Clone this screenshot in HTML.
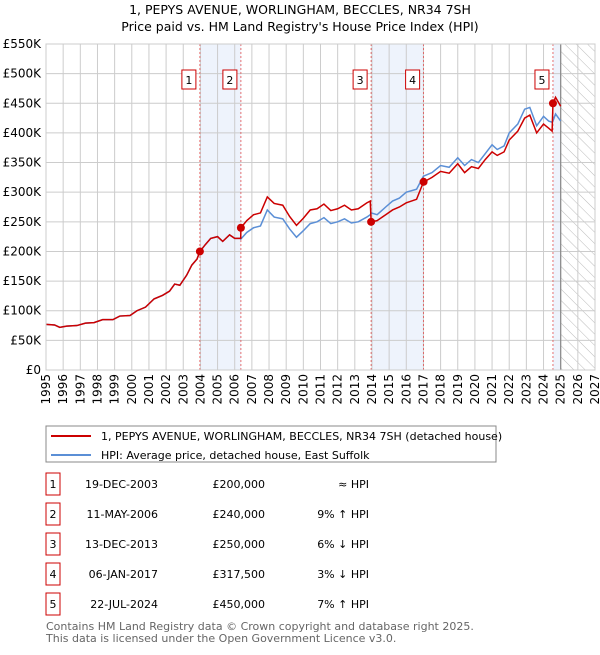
<!DOCTYPE html>
<html><head><meta charset="utf-8"><style>
body{margin:0;background:#fff;font-family:"Liberation Sans","DejaVu Sans",sans-serif;}
svg text{font-family:"DejaVu Sans","Liberation Sans",sans-serif;}
</style></head><body>
<svg id="c" width="600" height="650" viewBox="0 0 600 650" xmlns="http://www.w3.org/2000/svg">
<defs><pattern id="hatch" width="8" height="8" patternUnits="userSpaceOnUse" patternTransform="rotate(-45)"><line x1="0" y1="0" x2="0" y2="8" stroke="#bbb" stroke-width="1"/></pattern></defs>
<text x="300" y="14" text-anchor="middle" font-size="12.5" fill="#000">1, PEPYS AVENUE, WORLINGHAM, BECCLES, NR34 7SH</text>
<text x="300" y="31" text-anchor="middle" font-size="12.5" fill="#000">Price paid vs. HM Land Registry's House Price Index (HPI)</text>
<g id="plot"></g>
</svg>
<script>
const years=[1995,1996,1997,1998,1999,2000,2001,2002,2003,2004,2005,2006,2007,2008,2009,2010,2011,2012,2013,2014,2015,2016,2017,2018,2019,2020,2021,2022,2023,2024,2025,2026,2027];
const yTicks=[0,50,100,150,200,250,300,350,400,450,500,550];
const dates=[1995.0,1995.5,1995.8,1996.2,1996.8,1997.3,1997.8,1998.3,1998.9,1999.3,1999.9,2000.3,2000.8,2001.3,2001.8,2002.2,2002.5,2002.8,2003.2,2003.5,2003.8,2003.97,2004.3,2004.6,2005.0,2005.3,2005.7,2006.0,2006.35,2006.36,2006.7,2007.1,2007.5,2007.9,2008.3,2008.8,2009.2,2009.6,2010.0,2010.4,2010.8,2011.2,2011.6,2012.0,2012.4,2012.8,2013.2,2013.7,2013.9,2013.95,2014.3,2014.8,2015.2,2015.6,2016.0,2016.6,2017.0,2017.5,2018.0,2018.5,2019.0,2019.4,2019.8,2020.2,2020.6,2021.0,2021.3,2021.7,2022.0,2022.5,2022.9,2023.2,2023.6,2024.0,2024.3,2024.5,2024.55,2024.7,2025.0];
const hpi=[77,76,72,74,75,79,80,85,85,91,92,100,106,120,126,133,145,143,160,177,187,200,212,222,225,217,228,222,222,221,232,240,243,270,258,255,238,224,235,247,250,257,247,250,255,248,250,258,262,265,262,275,285,290,300,305,327,333,345,342,358,345,355,350,365,380,372,378,400,415,440,443,412,428,420,418,420,432,420];
const red=[77,76,72,74,75,79,80,85,85,91,92,100,106,120,126,133,145,143,160,177,187,200,212,222,225,217,228,222,222,240,252,262,265,292,281,278,259,244,256,270,272,280,269,272,278,270,272,282,285,250,252,262,270,275,282,288,317,325,335,332,348,333,343,340,355,368,362,368,388,403,425,430,400,415,408,403,450,460,445];
const saleDates=[2003.97,2006.36,2013.95,2017.01,2024.55];
const salePrices=[200,240,250,317.5,450];
const saleLabels=["1","2","3","4","5"];
const shadeRanges=[[2003.97,2006.36],[2013.95,2017.01],[2024.55,2025.0]];
const dataEnd=2025.0;

const X0=46,X1=595,Y0=370,Y1=44;
const x=v=>X0+(v-1995)/(2027-1995)*(X1-X0);
const y=v=>Y0-v/550*(Y0-Y1);
const NS="http://www.w3.org/2000/svg";
const g=document.getElementById('plot');
function mk(t,a,p){const e=document.createElementNS(NS,t);for(const k in a)e.setAttribute(k,a[k]);(p||g).appendChild(e);return e;}

shadeRanges.forEach(r=>{
 const e=mk('rect',{x:x(r[0]),y:Y1,width:x(r[1])-x(r[0]),height:Y0-Y1,fill:'#eef3fc'});
 
 
});
const h=mk('rect',{x:x(dataEnd),y:Y1,width:X1-x(dataEnd),height:Y0-Y1,fill:'url(#hatch)'});


years.forEach(yr=>{
 const l=mk('line',{x1:x(yr),x2:x(yr),y1:Y1,y2:Y0,stroke:'#ccc','stroke-width':1});
 
 
 const t=mk('text',{x:0,y:0,'font-size':12,'text-anchor':'end',transform:`translate(${x(yr)+4},${Y0+4}) rotate(-90)`});
 t.textContent=yr;
 
 
});
yTicks.forEach(v=>{
 const l=mk('line',{x1:X0,x2:X1,y1:y(v),y2:y(v),stroke:'#ccc','stroke-width':1});
 
 
 const t=mk('text',{x:X0-5,y:y(v)+4,'font-size':12,'text-anchor':'end'});
 t.textContent=v===0?'£0':'£'+v+'K';
 
 
});
const de=mk('line',{x1:x(dataEnd),x2:x(dataEnd),y1:Y1,y2:Y0,stroke:'#888','stroke-width':1.2});


saleDates.forEach((d,i)=>{
 const l=mk('line',{x1:x(d),x2:x(d),y1:Y1,y2:Y0,stroke:'#e05050','stroke-width':0.8,'stroke-dasharray':'2,2'});
 
 
});
const hp=mk('polyline',{points:dates.map((d,i)=>x(d)+','+y(hpi[i])).join(' '),fill:'none',stroke:'#5b8fd6','stroke-width':1.5});


const rp=mk('polyline',{points:dates.map((d,i)=>x(d)+','+y(red[i])).join(' '),fill:'none',stroke:'#cc0000','stroke-width':1.5});


saleDates.forEach((d,i)=>{
 const c=mk('circle',{cx:x(d),cy:y(salePrices[i]),r:4,fill:'#cc0000'});
 
 
 const bx=x(d)-18;
 const b=mk('rect',{x:bx,y:70,width:14,height:19,fill:'#fff',stroke:'#cc0000','stroke-width':1});
 
 
 const t=mk('text',{x:bx+7,y:84,'font-size':11,'text-anchor':'middle'});
 t.textContent=saleLabels[i];
 
 
});
const ax=mk('rect',{x:X0,y:Y1,width:X1-X0,height:Y0-Y1,fill:'none',stroke:'#ccc','stroke-width':1});



// legend
const lg=mk('g',{});


mk('rect',{x:46,y:426,width:450,height:36,fill:'#fff',stroke:'#888','stroke-width':1},lg);
mk('line',{x1:51,x2:91,y1:436,y2:436,stroke:'#cc0000','stroke-width':2},lg);
mk('line',{x1:51,x2:91,y1:455,y2:455,stroke:'#5b8fd6','stroke-width':2},lg);
const l1=mk('text',{x:101,y:440,'font-size':11},lg);l1.textContent='1, PEPYS AVENUE, WORLINGHAM, BECCLES, NR34 7SH (detached house)';


const l2=mk('text',{x:101,y:459,'font-size':11},lg);l2.textContent='HPI: Average price, detached house, East Suffolk';



// table
const rows=[["1","19-DEC-2003","£200,000","≈ HPI"],["2","11-MAY-2006","£240,000","9% ↑ HPI"],["3","13-DEC-2013","£250,000","6% ↓ HPI"],["4","06-JAN-2017","£317,500","3% ↓ HPI"],["5","22-JUL-2024","£450,000","7% ↑ HPI"]];
rows.forEach((r,i)=>{
 const yy=484+i*30;
 const rg=mk('g',{});
 
 
 mk('rect',{x:46,y:yy-11,width:14,height:22,fill:'#fff',stroke:'#cc0000','stroke-width':1},rg);
 const a=mk('text',{x:53,y:yy+4,'font-size':11,'text-anchor':'middle'},rg);a.textContent=r[0];
 const b=mk('text',{x:158,y:yy+4,'font-size':11,'text-anchor':'end'},rg);b.textContent=r[1];
 const c=mk('text',{x:265,y:yy+4,'font-size':11,'text-anchor':'end'},rg);c.textContent=r[2];
 const d=mk('text',{x:369,y:yy+4,'font-size':11,'text-anchor':'end'},rg);d.textContent=r[3];
});
const f1=mk('text',{x:46,y:630,'font-size':11,fill:'#666'});f1.textContent='Contains HM Land Registry data © Crown copyright and database right 2025.';


const f2=mk('text',{x:46,y:642,'font-size':11,fill:'#666'});f2.textContent='This data is licensed under the Open Government Licence v3.0.';


</script>
</body></html>
